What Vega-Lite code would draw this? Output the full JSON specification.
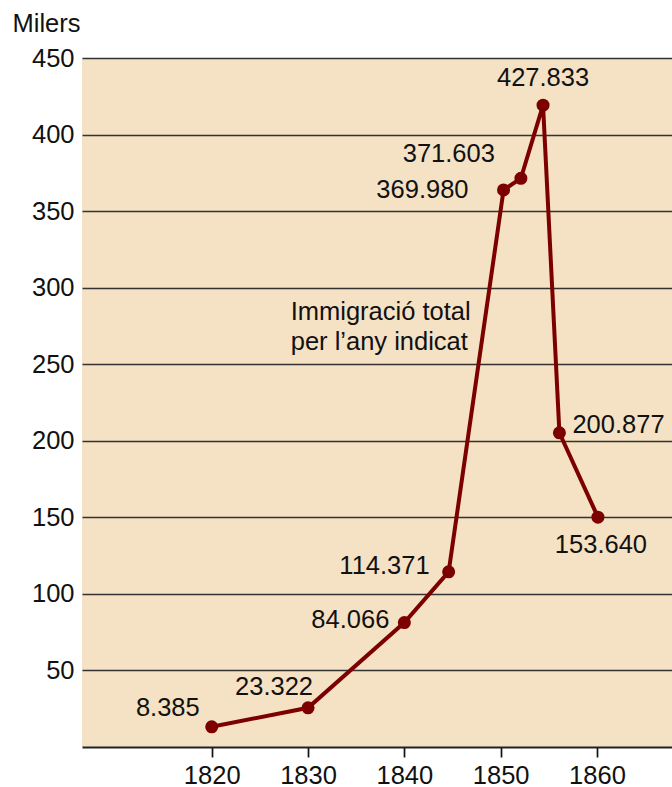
{
  "$schema": "https://vega.github.io/schema/vega-lite/v6.json",
  "width": 590,
  "height": 689,
  "autosize": {"type": "none"},
  "padding": {"left": 82, "top": 58, "right": 0, "bottom": 40},
  "background": "white",
  "config": {
    "view": {"fill": "#F5E1C3", "stroke": null},
    "font": "Liberation Sans",
    "text": {"font": "Liberation Sans", "fontSize": 25.5, "color": "#111", "baseline": "middle"}
  },
  "datasets": {
    "immigration": [
      {"year": 1820, "value": 13.2, "label": "8.385", "id": "a"},
      {"year": 1830, "value": 25.6, "label": "23.322", "id": "b"},
      {"year": 1840, "value": 81.3, "label": "84.066", "id": "c"},
      {"year": 1844.6, "value": 114.4, "label": "114.371", "id": "d"},
      {"year": 1850.3, "value": 363.8, "label": "369.980", "id": "e"},
      {"year": 1852.1, "value": 371.4, "label": "371.603", "id": "f"},
      {"year": 1854.4, "value": 419.2, "label": "427.833", "id": "g"},
      {"year": 1856.1, "value": 205.2, "label": "200.877", "id": "h"},
      {"year": 1860.1, "value": 150.1, "label": "153.640", "id": "i"}
    ],
    "note": [
      {"year": 1828.2, "value": 284.3, "text": "Immigració total|per l’any indicat"}
    ]
  },
  "data": {"name": "immigration"},
  "encoding": {
    "x": {
      "field": "year", "type": "quantitative",
      "scale": {"domain": [1806.53, 1867.79], "nice": false, "zero": false},
      "axis": {
        "title": null, "values": [1820, 1830, 1840, 1850, 1860], "format": "d",
        "grid": false, "domain": true, "domainColor": "#222", "domainWidth": 2,
        "ticks": true, "tickColor": "#111", "tickSize": 10, "tickWidth": 1.7,
        "labelFont": "Liberation Sans", "labelFontSize": 25.5, "labelColor": "#111",
        "labelPadding": 6
      }
    },
    "y": {
      "field": "value", "type": "quantitative",
      "scale": {"domain": [0, 450], "nice": false},
      "axis": {
        "title": "Milers", "titleAngle": 0, "titleAlign": "left", "titleBaseline": "middle",
        "titleX": -70, "titleY": -35, "titleFont": "Liberation Sans", "titleFontSize": 25.5,
        "titleFontWeight": "normal", "titleColor": "#111",
        "values": [50, 100, 150, 200, 250, 300, 350, 400, 450],
        "grid": true, "gridColor": "#333", "gridWidth": 1.5, "gridOpacity": 1,
        "domain": false, "ticks": false,
        "labelFont": "Liberation Sans", "labelFontSize": 25.5, "labelColor": "#111",
        "labelPadding": 8
      }
    }
  },
  "layer": [
    {
      "mark": {"type": "line", "color": "#7D0000", "strokeWidth": 4,
        "point": {"filled": true, "color": "#7D0000", "size": 170, "opacity": 1}}
    },
    {"transform": [{"filter": "datum.id == 'a'"}], "mark": {"type": "text", "align": "right", "dx": -12, "dy": -19}, "encoding": {"text": {"field": "label"}}},
    {"transform": [{"filter": "datum.id == 'b'"}], "mark": {"type": "text", "align": "right", "dx": 5, "dy": -21}, "encoding": {"text": {"field": "label"}}},
    {"transform": [{"filter": "datum.id == 'c'"}], "mark": {"type": "text", "align": "right", "dx": -15, "dy": -3}, "encoding": {"text": {"field": "label"}}},
    {"transform": [{"filter": "datum.id == 'd'"}], "mark": {"type": "text", "align": "right", "dx": -19, "dy": -6}, "encoding": {"text": {"field": "label"}}},
    {"transform": [{"filter": "datum.id == 'e'"}], "mark": {"type": "text", "align": "right", "dx": -35, "dy": 0}, "encoding": {"text": {"field": "label"}}},
    {"transform": [{"filter": "datum.id == 'f'"}], "mark": {"type": "text", "align": "right", "dx": -26, "dy": -24}, "encoding": {"text": {"field": "label"}}},
    {"transform": [{"filter": "datum.id == 'g'"}], "mark": {"type": "text", "align": "center", "dx": 0, "dy": -27}, "encoding": {"text": {"field": "label"}}},
    {"transform": [{"filter": "datum.id == 'h'"}], "mark": {"type": "text", "align": "left", "dx": 13, "dy": -8}, "encoding": {"text": {"field": "label"}}},
    {"transform": [{"filter": "datum.id == 'i'"}], "mark": {"type": "text", "align": "center", "dx": 3, "dy": 28}, "encoding": {"text": {"field": "label"}}},
    {
      "data": {"name": "note"},
      "mark": {"type": "text", "align": "left", "baseline": "middle", "lineBreak": "|", "lineHeight": 30, "fontSize": 25.5},
      "encoding": {"text": {"field": "text"}}
    }
  ]
}
